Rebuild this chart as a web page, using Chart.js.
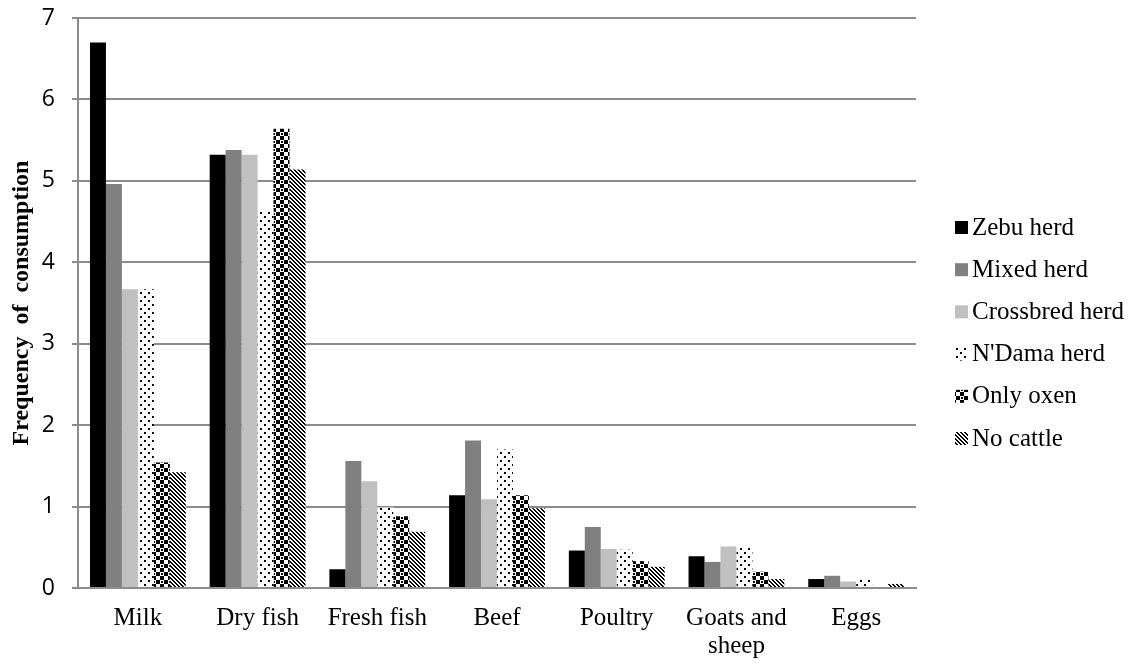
<!DOCTYPE html>
<html>
<head>
<meta charset="utf-8">
<script src="https://cdn.jsdelivr.net/npm/chart.js@4.4.0/dist/chart.umd.min.js"></script>
<style>
  html, body { margin: 0; padding: 0; background: #fff; }
  #wrap { width: 1133px; height: 664px; }
</style>
</head>
<body>
<div id="wrap"><canvas id="chart" width="1133" height="664"></canvas></div>
<script>
// categorías y valores
const categories = ["Milk", "Dry fish", "Fresh fish", "Beef", "Poultry", ["Goats and", "sheep"], "Eggs"];
const seriesNames = ["Zebu herd", "Mixed herd", "Crossbred herd", "N'Dama herd", "Only oxen", "No cattle"];
const zebu = [6.70, 5.32, 0.23, 1.14, 0.46, 0.39, 0.11];
const mixed = [4.96, 5.38, 1.56, 1.81, 0.75, 0.32, 0.15];
const crossbred = [3.67, 5.32, 1.31, 1.09, 0.48, 0.51, 0.08];
const ndama = [3.67, 4.64, 0.99, 1.70, 0.47, 0.49, 0.10];
const oxen = [1.54, 5.64, 0.88, 1.14, 0.33, 0.20, 0.0];
const noCattle = [1.42, 5.14, 0.69, 0.98, 0.26, 0.11, 0.05];
const yTicks = [0, 1, 2, 3, 4, 5, 6, 7];

// patrones de relleno (puntos, damero, rayas)
function makePattern(size, paint) {
  const c = document.createElement("canvas");
  c.width = size;
  c.height = size;
  const g = c.getContext("2d");
  g.fillStyle = "#fff";
  g.fillRect(0, 0, size, size);
  g.fillStyle = "#000";
  paint(g, size);
  return g.createPattern(c, "repeat");
}

const dots = makePattern(8, (g) => {
  g.fillRect(0, 0, 2, 2);
  g.fillRect(4, 4, 2, 2);
});

const checker = makePattern(8, (g) => {
  g.fillRect(0, 0, 4, 4);
  g.fillRect(4, 4, 4, 4);
  g.fillRect(1, 5, 2, 2);
});

const stripes = makePattern(8, (g, s) => {
  for (let y = 0; y < s; y++) {
    for (let x = 0; x < s; x++) {
      const d = (((x - y) % 4) + 4) % 4;
      if (d < 2) g.fillRect(x, y, 1, 1);
    }
  }
});

const fills = ["#000000", "#808080", "#c0c0c0", dots, checker, stripes];
const seriesData = [zebu, mixed, crossbred, ndama, oxen, noCattle];

const gridColor = "#8c8c8c";
const serif = "'Liberation Serif', 'Times New Roman', serif";

// leyenda dibujada a mano a la derecha
const sideLegend = {
  id: "sideLegend",
  afterDraw(chart) {
    const ctx = chart.ctx;
    ctx.save();
    ctx.font = "25px " + serif;
    ctx.textBaseline = "middle";
    ctx.textAlign = "left";
    chart.data.datasets.forEach((ds, i) => {
      const cy = 227 + i * 42.2;
      ctx.fillStyle = ds.backgroundColor;
      ctx.fillRect(955, cy - 6, 13, 13);
      ctx.fillStyle = "#000";
      ctx.fillText(ds.label, 972, cy + 1);
    });
    ctx.restore();
  },
};

const ctx = document.getElementById("chart").getContext("2d");

new Chart(ctx, {
  type: "bar",
  data: {
    labels: categories,
    datasets: seriesNames.map((name, i) => ({
      label: name,
      data: seriesData[i],
      backgroundColor: fills[i],
      borderWidth: 0,
      categoryPercentage: 0.8,
      barPercentage: 1.0,
    })),
  },
  options: {
    responsive: false,
    animation: false,
    devicePixelRatio: 1,
    layout: { padding: { top: 18, right: 217, left: 0, bottom: 0 } },
    plugins: {
      legend: { display: false },
      tooltip: { enabled: false },
    },
    scales: {
      x: {
        grid: { display: false, drawTicks: false },
        border: { display: true, color: gridColor, width: 2 },
        ticks: {
          color: "#000",
          padding: 16,
          maxRotation: 0,
          autoSkip: false,
          font: { family: serif, size: 25, lineHeight: 1.12 },
        },
        afterFit(scale) {
          scale.height = 76;
          scale.paddingLeft = 0;
          scale.paddingRight = 0;
        },
      },
      y: {
        min: 0,
        max: 7,
        afterBuildTicks(scale) {
          scale.ticks = yTicks.map((v) => ({ value: v }));
        },
        grid: { color: gridColor, lineWidth: 2, tickLength: 6, drawTicks: true, tickColor: gridColor },
        border: { display: true, color: gridColor, width: 2 },
        ticks: {
          color: "#000",
          padding: 17,
          font: { family: "'Open Sans', 'Liberation Sans', sans-serif", size: 23 },
        },
        title: {
          display: true,
          text: "Frequency  of  consumption",
          color: "#000",
          padding: { top: 7, bottom: 0 },
          font: { family: serif, size: 24, weight: "bold" },
        },
        afterFit(scale) {
          scale.width = 78;
          scale.paddingTop = 0;
          scale.paddingBottom = 0;
        },
      },
    },
  },
  plugins: [sideLegend],
});
</script>
</body>
</html>
